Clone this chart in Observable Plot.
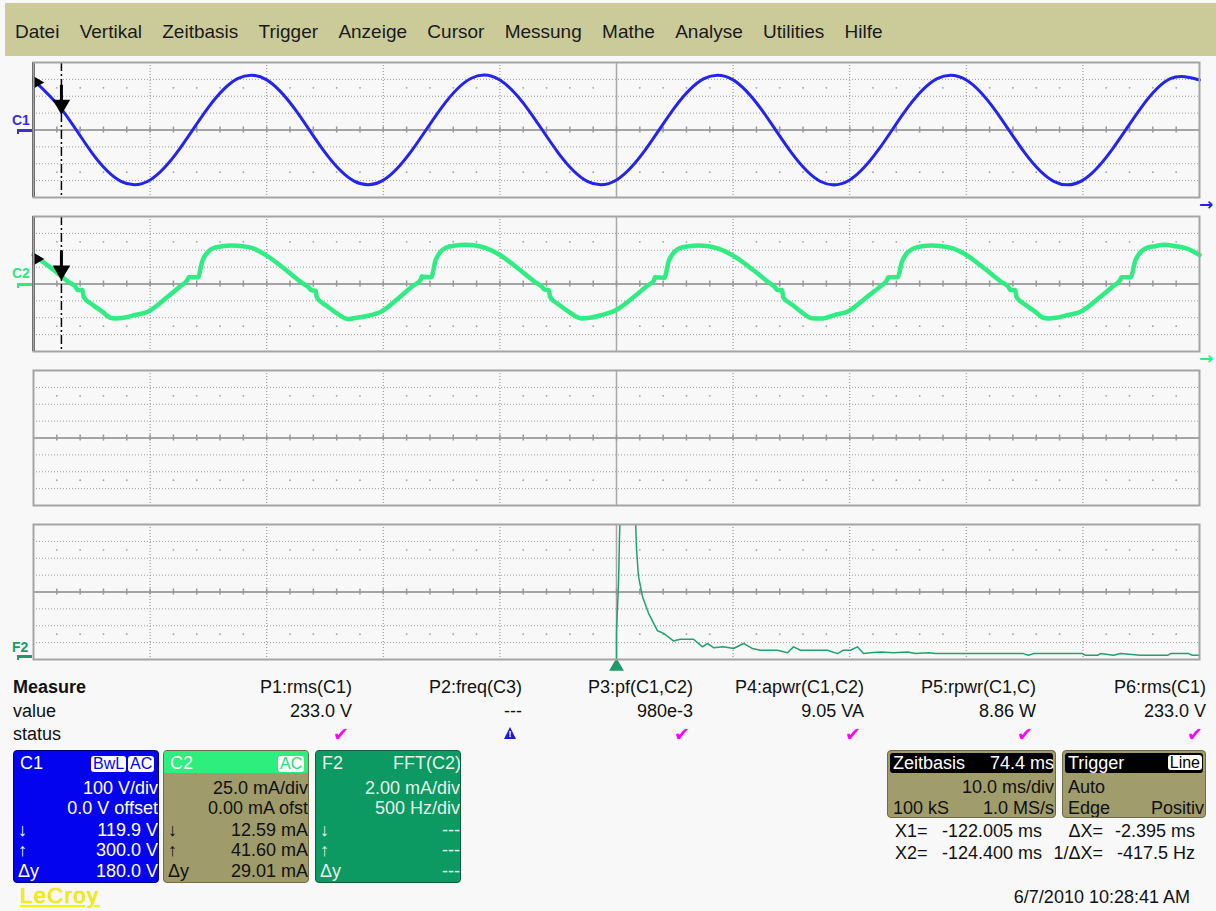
<!DOCTYPE html>
<html><head><meta charset="utf-8">
<script src="https://cdn.jsdelivr.net/npm/d3@7"></script>
<script src="https://cdn.jsdelivr.net/npm/@observablehq/plot@0.6"></script>
<style>
html,body{margin:0;padding:0;background:#f8f8f8;}
#root{position:relative;width:1216px;height:911px;overflow:hidden;font-family:"Liberation Sans",Arial,sans-serif;color:#111;}
</style></head><body><div id="root"></div>
<script>
// ---------------- DATA ----------------
const menuItems = ["Datei","Vertikal","Zeitbasis","Trigger","Anzeige","Cursor","Messung","Mathe","Analyse","Utilities","Hilfe"];

// time base: 10 ms/div, delay 74.4 ms -> screen from -124.4 ms to -24.4 ms
const timeDomain = [-124.4, -24.4];
const c1Domain = [-400, 400];   // 100 V/div
const c2Domain = [-100, 100];   // 25 mA/div
const c3Domain = [-4, 4];
const f2FreqDomain = [-2500, 2500]; // 500 Hz/div
const f2AmpDomain = [0, 16];        // 2 mA/div

// C1 voltage (V) read every 2.5 ms
const c1Time = [-124.4,-121.9,-119.4,-116.9,-114.4,-111.9,-109.4,-106.9,-104.4,-101.9,-99.4,-96.9,-94.4,-91.9,-89.4,-86.9,-84.4,-81.9,-79.4,-76.9,-74.4,-71.9,-69.4,-66.9,-64.4,-61.9,-59.4,-56.9,-54.4,-51.9,-49.4,-46.9,-44.4,-41.9,-39.4,-36.9,-34.4,-31.9,-29.4,-26.9,-24.4];
const c1Volt = [296,115,-134,-304,-296,-115,134,304,297,116,-133,-303,-297,-116,133,305,296,114,-135,-304,-296,-115,134,304,297,115,-134,-305,-296,-114,135,304,296,115,-134,-304,-297,-116,133,304,296];

// C2 current (mA)
const c2Time = [
 -124.4,-122.7,-121.4,-120.8,-120.6,-120.2,-120.1,-119.3,-118.5,-117.8,-117.4,-116.7,-115.7,-114.6,-112.9,-111.8,-111.2,-111.1,-110.3,-109.9,-109.0,-108.2,-107.4,
 -106.5,-105.6,-104.4,-102.7,-101.4,-100.8,-100.6,-100.2,-100.1,-99.3,-98.5,-97.8,-97.4,-96.7,-95.7,-94.6,-92.9,-91.8,-91.2,-91.1,-90.3,-89.9,-89.0,-88.2,-87.4,
 -86.5,-85.6,-84.4,-82.7,-81.4,-80.8,-80.6,-80.2,-80.1,-79.3,-78.5,-77.8,-77.4,-76.7,-75.7,-74.6,-72.9,-71.8,-71.2,-71.1,-70.3,-69.9,-69.0,-68.2,-67.4,
 -66.5,-65.6,-64.4,-62.7,-61.4,-60.8,-60.6,-60.2,-60.1,-59.3,-58.5,-57.8,-57.4,-56.7,-55.7,-54.6,-52.9,-51.8,-51.2,-51.1,-50.3,-49.9,-49.0,-48.2,-47.4,
 -46.5,-45.6,-44.4,-42.7,-41.4,-40.8,-40.6,-40.2,-40.1,-39.3,-38.5,-37.8,-37.4,-36.7,-35.7,-34.6,-32.9,-31.8,-31.2,-31.1,-30.3,-29.9,-29.0,-28.2,-27.4,-26.5,-25.6,-24.4];
const c2Curr = [
 43,21,3,-4,-9,-9,-19,-31,-41,-50,-51,-50,-46,-41,-19,-3,6,10,10,35,53,56,57,
 56,53,42,20,2,-5,-9,-10,-20,-32,-42,-50,-52,-50,-47,-41,-18,-2,6,11,10,36,54,57,58,
 57,53,43,21,3,-4,-8,-9,-19,-31,-41,-49,-51,-50,-46,-40,-19,-3,5,10,9,35,53,56,57,
 56,52,42,21,3,-5,-9,-9,-20,-31,-42,-50,-51,-51,-46,-41,-19,-4,6,10,10,34,52,56,57,
 56,53,43,21,3,-4,-9,-9,-19,-31,-41,-50,-51,-50,-46,-41,-19,-3,6,10,10,35,53,56,58,56,53,43];

// F2 = FFT(C2): frequency (Hz), amplitude (mA)
const f2Freq = [0,0,9,13,21,50,81,86,94,111,137,176,202,244,274,330,369,390,416,459,502,545,583,617,690,733,759,789,845,905,948,973,1003,1033,1059,1089,1132,1188,1248,1282,1338,1368,1505,1745,1767,1788,1998,2011,2063,2075,2131,2161,2247,2363,2376,2453,2470,2496];
const f2Amp  = [0,3.2,9.4,14.6,22,38,17,13.1,9.9,7.5,5.5,3.4,3.1,2.2,2.4,2.4,1.5,1.9,1.4,1.5,1.3,1.9,1.3,1.1,1.1,0.8,1.5,1.1,1.1,1.1,0.7,1.1,1.1,1.5,0.7,0.8,0.9,0.8,0.9,0.7,0.8,0.7,0.7,0.7,0.5,0.7,0.7,0.5,0.5,0.7,0.5,0.7,0.5,0.5,0.7,0.7,0.5,0.5];

// cursors
const cursorX1 = -122.005, cursorX2 = -124.400;
const c1AtX1 = 119.9, c1AtX2 = 300.0, c2AtX1 = 12.59, c2AtX2 = 41.60;

// measurement table
const measureRows = ["Measure","value","status"];
const measureNames = ["P1:rms(C1)","P2:freq(C3)","P3:pf(C1,C2)","P4:apwr(C1,C2)","P5:rpwr(C1,C)","P6:rms(C1)"];
const measureValues = ["233.0 V","---","980e-3","9.05 VA","8.86 W","233.0 V"];
const measureStatus = ["ok","warn","ok","ok","ok","ok"];

// channel boxes
const c1BoxRows = [["","100 V/div"],["","0.0 V offset"],["↓","119.9 V"],["↑","300.0 V"],["Δy","180.0 V"]];
const c2BoxRows = [["","25.0 mA/div"],["","0.00 mA ofst"],["↓","12.59 mA"],["↑","41.60 mA"],["Δy","29.01 mA"]];
const f2BoxRows = [["","2.00 mA/div"],["","500 Hz/div"],["↓","---"],["↑","---"],["Δy","---"]];
const timebaseBox = ["Zeitbasis","74.4 ms","10.0 ms/div","100 kS","1.0 MS/s"];
const triggerBox = ["Trigger","Line","Auto","Edge","Positiv"];
const cursorReadout = [["X1=","-122.005 ms","ΔX=","-2.395 ms"],["X2=","-124.400 ms","1/ΔX=","-417.5 Hz"]];
const dateText = "6/7/2010 10:28:41 AM";
const brand = "LeCroy";

// ---------------- LAYOUT ----------------
const W = 1216, PAD = 14;
const root = document.getElementById("root");
function el(tag, css, parent, text) {
  const e = document.createElement(tag);
  Object.assign(e.style, css);
  if (text != null) e.textContent = text;
  (parent || root).appendChild(e);
  return e;
}
function label(parent, text, x, y, o = {}) {
  const css = {position:"absolute", whiteSpace:"nowrap", lineHeight:"20px", top:(y-10)+"px",
    fontSize:(o.size||18)+"px", color:o.color||"#111", fontWeight:o.bold?"bold":"normal"};
  if (o.right != null) css.right = o.right + "px"; else css.left = x + "px";
  if (o.extra) Object.assign(css, o.extra);
  return el("div", css, parent, text);
}

// menu bar
const menu = el("div", {position:"absolute", left:"5px", top:"3px", width:"1211px", height:"53px", background:"#cbcb99",
  display:"flex", alignItems:"center", paddingLeft:"10px", paddingTop:"4px", boxSizing:"border-box", gap:"20.3px", fontSize:"19px", color:"#1a1a1a"});
menuItems.forEach(m => el("span", {}, menu, m));

const GRID = "#9a9a9a";
function panel({top, xDom, yDom, marks}) {
  const [x0, x1] = xDom, [y0, y1] = yDom;
  const dx = (x1 - x0) / 10, dy = (y1 - y0) / 8, yc = (y0 + y1) / 2, xc = (x0 + x1) / 2;
  const majX = d3.range(1, 10).filter(k => k !== 5).map(k => x0 + k * dx);
  const allTicks = d3.range(1, 50).map(j => x0 + j * dx / 5);
  const minX = d3.range(1, 50).filter(j => j % 5 !== 0).map(j => x0 + j * dx / 5);
  const horiz = [-3, -2, -1, 1, 2, 3].map(k => yc + k * dy);
  const dotRows = [-2.5, 2.5].map(k => yc + k * dy);
  const svg = Plot.plot({
    width: W, height: 135 + 2 * PAD,
    marginLeft: 33, marginRight: 17, marginTop: PAD, marginBottom: PAD,
    x: {domain: xDom, axis: null}, y: {domain: yDom, axis: null},
    style: {background: "transparent", overflow: "visible"},
    marks: [
      Plot.ruleY(horiz, {stroke: GRID, strokeWidth: 1, strokeDasharray: "1,2"}),
      Plot.ruleX(majX, {stroke: GRID, strokeWidth: 1.2, strokeDasharray: "1,2"}),
      Plot.ruleX([xc], {stroke: "#a8a8a8", strokeWidth: 1.5}),
      Plot.ruleY([yc], {stroke: "#a4a4a4", strokeWidth: 2}),
      Plot.ruleX(allTicks, {y1: yc - 0.18 * dy, y2: yc + 0.18 * dy, stroke: "#999", strokeWidth: 1.5}),
      Plot.dot(d3.cross(minX, dotRows), {x: d => d[0], y: d => d[1], r: 0.9, fill: "#a0a0a0", stroke: null}),
      ...marks,
      Plot.frame({stroke: "#a4a4a4", strokeWidth: 2})
    ]
  });
  Object.assign(svg.style, {position: "absolute", left: "0px", top: (top - PAD) + "px"});
  root.appendChild(svg);
}

function cursorMarks(valX1, valX2, perDiv) {
  return [
    Plot.ruleX([cursorX2], {stroke: "#000", strokeWidth: 2.5}),
    Plot.ruleX([cursorX1], {stroke: "#000", strokeWidth: 1.5, strokeDasharray: "9,3,2,3"}),
    Plot.ruleX([cursorX1], {y1: valX1 + 0.4 * perDiv, y2: valX1 + 1.45 * perDiv, stroke: "#000", strokeWidth: 3}),
    Plot.dot([cursorX1], {x: d => d, y: valX1, dy: -5, symbol: "triangle", rotate: 180, r: 6.5, fill: "#000", stroke: null}),
    Plot.dot([cursorX2], {x: d => d, y: valX2, dx: 3, dy: 3, symbol: "triangle", rotate: 90, r: 5, fill: "#000", stroke: null})
  ];
}

const c1Data = c1Time.map((t, i) => ({t, v: c1Volt[i]}));
const c2Data = c2Time.map((t, i) => ({t, v: c2Curr[i]}));
const f2Data = f2Freq.map((f, i) => ({f, a: f2Amp[i]}));

panel({top: 62, xDom: timeDomain, yDom: c1Domain, marks: [
  Plot.line(c1Data, {x: "t", y: "v", stroke: "#2424ee", strokeWidth: 3, curve: "natural"}),
  ...cursorMarks(c1AtX1, c1AtX2, 100)
]});
panel({top: 216, xDom: timeDomain, yDom: c2Domain, marks: [
  Plot.line(c2Data, {x: "t", y: "v", stroke: "#30ec82", strokeWidth: 4.5, curve: "monotone-x"}),
  ...cursorMarks(c2AtX1, c2AtX2, 25)
]});
panel({top: 370, xDom: timeDomain, yDom: c3Domain, marks: []});
panel({top: 524, xDom: f2FreqDomain, yDom: f2AmpDomain, marks: [
  Plot.line(f2Data, {x: "f", y: "a", stroke: "#23a070", strokeWidth: 1.5, clip: true}),
  Plot.dot([0], {x: d => d, y: f2AmpDomain[0], dy: 7, symbol: "triangle", r: 5.5, fill: "#1e9a6a", stroke: null})
]});

// trace labels on left, arrows on right
function chLabel(text, y, color, markY) {
  label(root, text, 12, y, {size: 14, bold: true, color});
  el("div", {position: "absolute", left: "17px", top: (markY - 1) + "px", width: "15px", height: "3px", background: color}, root);
  el("div", {position: "absolute", left: "17px", top: (markY - 1) + "px", width: "2px", height: "5px", background: color}, root);
}
chLabel("C1", 120, "#3a2ee0", 130);
chLabel("C2", 273, "#2ee883", 284);
chLabel("F2", 647, "#1e9a6a", 656);
label(root, "→", 1199, 204, {size: 17, bold: true, color: "#1f1fee", extra: {fontFamily: "DejaVu Sans"}});
label(root, "→", 1199, 358, {size: 17, bold: true, color: "#30ec82", extra: {fontFamily: "DejaVu Sans"}});

// measurement table
const colRight = [352, 522, 693, 864, 1036, 1206];
const rowY = [687, 711, 734];
label(root, measureRows[0], 13, rowY[0], {bold: true});
label(root, measureRows[1], 13, rowY[1]);
label(root, measureRows[2], 13, rowY[2]);
measureNames.forEach((n, i) => {
  label(root, n, 0, rowY[0], {right: W - colRight[i]});
  label(root, measureValues[i], 0, rowY[1], {right: W - colRight[i]});
  if (measureStatus[i] === "ok") {
    label(root, "✔", 0, rowY[2], {right: W - colRight[i] + 3, color: "#ff00ff", size: 19, extra: {fontFamily: "DejaVu Sans"}});
  } else {
    el("div", {position: "absolute", left: (colRight[i] - 18) + "px", top: (rowY[2] - 7) + "px", width: "0px", height: "0px",
      borderLeft: "6px solid transparent", borderRight: "6px solid transparent", borderBottom: "12px solid #1a1ae0"}, root);
    el("div", {position: "absolute", left: (colRight[i] - 18) + "px", top: (rowY[2] - 5) + "px", width: "12px", textAlign: "center",
      fontSize: "9px", lineHeight: "10px", fontWeight: "bold", color: "#fff"}, root, "!");
  }
});

// channel boxes
function chBox(left, bg, border, fg, title, rows, opts) {
  const b = el("div", {position: "absolute", left: left + "px", top: "750px", width: "146px", height: "133px", background: bg,
    border: "1px solid " + border, borderRadius: "4px", overflow: "hidden", boxSizing: "border-box"}, root);
  if (opts.header) el("div", {position: "absolute", left: "0px", top: "0px", right: "0px", height: "22px", background: opts.header}, b);
  label(b, title, 6, 12, {color: opts.titleColor || fg});
  (opts.badges || []).forEach(bd => el("div", {position: "absolute", left: bd[1] + "px", top: "5px", background: "#fff", color: bd[2],
    fontSize: "16px", lineHeight: "16px", padding: "0 2px", borderRadius: "3px"}, b, bd[0]));
  if (opts.titleRight) label(b, opts.titleRight, 0, 12, {right: -1, color: fg});
  const ys = [37, 57, 79, 99, 120];
  rows.forEach((r, i) => {
    if (r[0]) label(b, r[0], 4, ys[i], {color: fg});
    label(b, r[1], 0, ys[i], {right: 0, color: fg});
  });
}
chBox(13, "#0303f0", "#00007a", "#ffffff", "C1", c1BoxRows, {badges: [["BwL", 77, "#0303f0"], ["AC", 114, "#0303f0"]]});
chBox(163, "#9f9b6b", "#706c48", "#111", "C2", c2BoxRows, {header: "#2cef7e", titleColor: "#ffffff", badges: [["AC", 114, "#2cd877"]]});
chBox(315, "#0c9962", "#0a6040", "#e6f2ea", "F2", f2BoxRows, {titleRight: "FFT(C2)"});

// timebase / trigger boxes
function tbBox(left, width, head, headRight, r1, r2l, r2r, badge) {
  const b = el("div", {position: "absolute", left: left + "px", top: "750px", width: width + "px", height: "68px", background: "#a09c6c",
    border: "1px solid #6d6a48", borderRadius: "4px", overflow: "hidden", boxSizing: "border-box"}, root);
  el("div", {position: "absolute", left: "2px", top: "2px", right: "2px", height: "20px", background: "#000", borderRadius: "3px"}, b);
  label(b, head, 5, 12, {color: "#fff"});
  if (headRight) label(b, headRight, 0, 12, {right: 1, color: "#fff"});
  if (badge) el("div", {position: "absolute", right: "3px", top: "4px", background: "#fff", color: "#000", fontSize: "16px",
    lineHeight: "15px", padding: "0 2px", borderRadius: "3px"}, b, badge);
  if (r1[0]) label(b, r1[0], 5, 36); if (r1[1]) label(b, r1[1], 0, 36, {right: 1});
  label(b, r2l, 5, 57); label(b, r2r, 0, 57, {right: 1});
}
tbBox(887, 169, timebaseBox[0], timebaseBox[1], ["", timebaseBox[2]], timebaseBox[3], timebaseBox[4], null);
tbBox(1062, 144, triggerBox[0], null, [triggerBox[2], ""], triggerBox[3], triggerBox[4], triggerBox[1]);

// cursor readouts
const roY = [831, 853];
cursorReadout.forEach((r, i) => {
  label(root, r[0], 895, roY[i]);
  label(root, r[1], 0, roY[i], {right: W - 1042});
  label(root, r[2], 0, roY[i], {right: W - 1103});
  label(root, r[3], 0, roY[i], {right: W - 1195});
});
label(root, dateText, 0, 897, {right: W - 1190});
label(root, brand, 20, 896, {size: 22, color: "#f4f400", extra: {textDecoration: "underline", letterSpacing: "1.4px", textShadow: "0 0 1px #d8a000"}});
</script></body></html>
